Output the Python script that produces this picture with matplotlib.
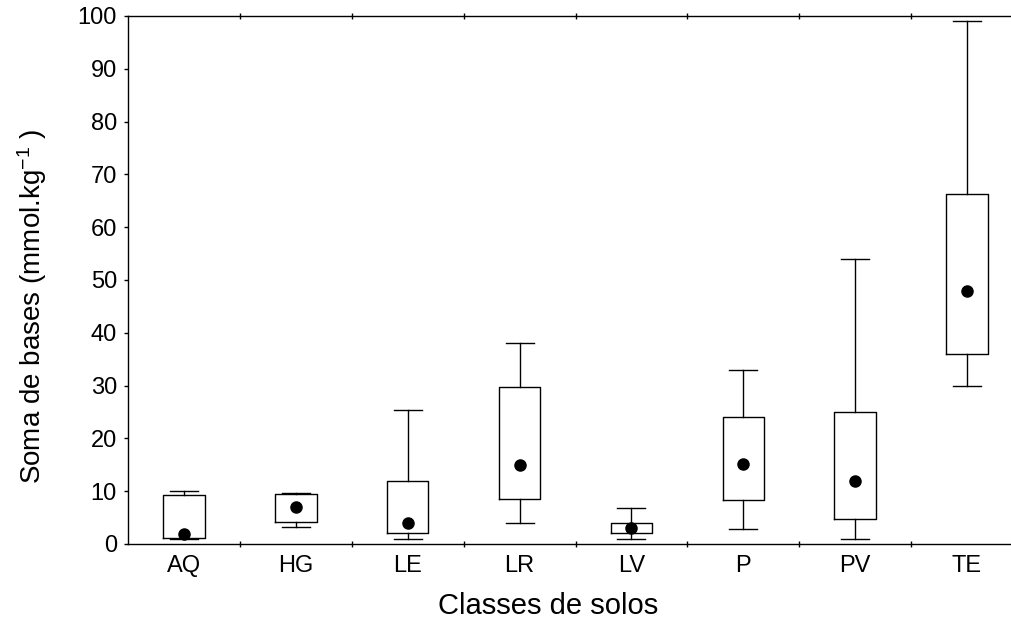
import numpy as np
import matplotlib
matplotlib.use("Agg")
import matplotlib.pyplot as plt

# soil classes and box statistics (mmol.kg-1)
classes = ["AQ", "HG", "LE", "LR", "LV", "P", "PV", "TE"]
minimos = [1.0, 3.2, 1.0, 3.9, 0.9, 2.8, 1.0, 30.0]
quartil1 = [1.1, 4.2, 2.0, 8.5, 2.0, 8.4, 4.7, 36.0]
medianas = [1.9, 7.1, 4.0, 15.0, 3.0, 15.2, 12.0, 48.0]
quartil3 = [9.3, 9.5, 12.0, 29.8, 4.0, 24.0, 25.0, 66.2]
maximos = [10.1, 9.6, 25.4, 38.0, 6.9, 33.0, 53.9, 99.0]

plt.rcParams["font.family"] = ["Liberation Sans", "DejaVu Sans"]
plt.rcParams["mathtext.fontset"] = "custom"
plt.rcParams["mathtext.rm"] = "Liberation Sans"
plt.rcParams["mathtext.it"] = "Liberation Sans"

fig = plt.figure(figsize=(10.11, 6.18), dpi=100)
# axes run a bit past the right edge of the image, like the original export
ax = fig.add_axes([128 / 1011, 74 / 618, 895 / 1011, 528 / 618])

stats = []
for i, nome in enumerate(classes):
    stats.append({
        "label": nome,
        "whislo": minimos[i],
        "q1": quartil1[i],
        "med": medianas[i],
        "q3": quartil3[i],
        "whishi": maximos[i],
    })

pos = np.arange(len(classes))
ax.bxp(stats, positions=pos, widths=0.37, capwidths=0.25, showfliers=False,
       boxprops=dict(color="black", linewidth=1.0),
       whiskerprops=dict(color="black", linewidth=1.0),
       capprops=dict(color="black", linewidth=1.0),
       medianprops=dict(linestyle="none"))
ax.plot(pos, medianas, "o", color="black", markersize=8, zorder=3)

ax.set_xlim(-0.5, len(classes) - 0.5)
ax.set_ylim(0, 100)
ax.set_yticks(np.arange(0, 101, 10))
ax.set_xticks(pos)
ax.set_xticklabels(classes)
ax.set_xticks(pos[:-1] + 0.5, minor=True)

ax.tick_params(axis="x", which="major", length=0, pad=8, labelsize=17)
ax.tick_params(axis="x", which="minor", direction="inout", length=4,
               top=True, width=1.0)
ax.tick_params(axis="y", direction="out", length=3, width=1.0, pad=5,
               labelsize=17)
for s in ax.spines.values():
    s.set_linewidth(1.0)

ax.set_xlabel("Classes de solos", fontsize=21)
ax.xaxis.label.set_verticalalignment("baseline")
ax.xaxis.set_label_coords((548 - 128) / 895, (544 - 614) / 528)

ax.set_ylabel(r"Soma de bases (mmol.kg$^{-1}$ )", fontsize=20)
ax.yaxis.label.set_verticalalignment("baseline")
ax.yaxis.set_label_coords((41 - 128) / 895, (544 - 306) / 528)

fig.savefig("out.png", dpi=100)
